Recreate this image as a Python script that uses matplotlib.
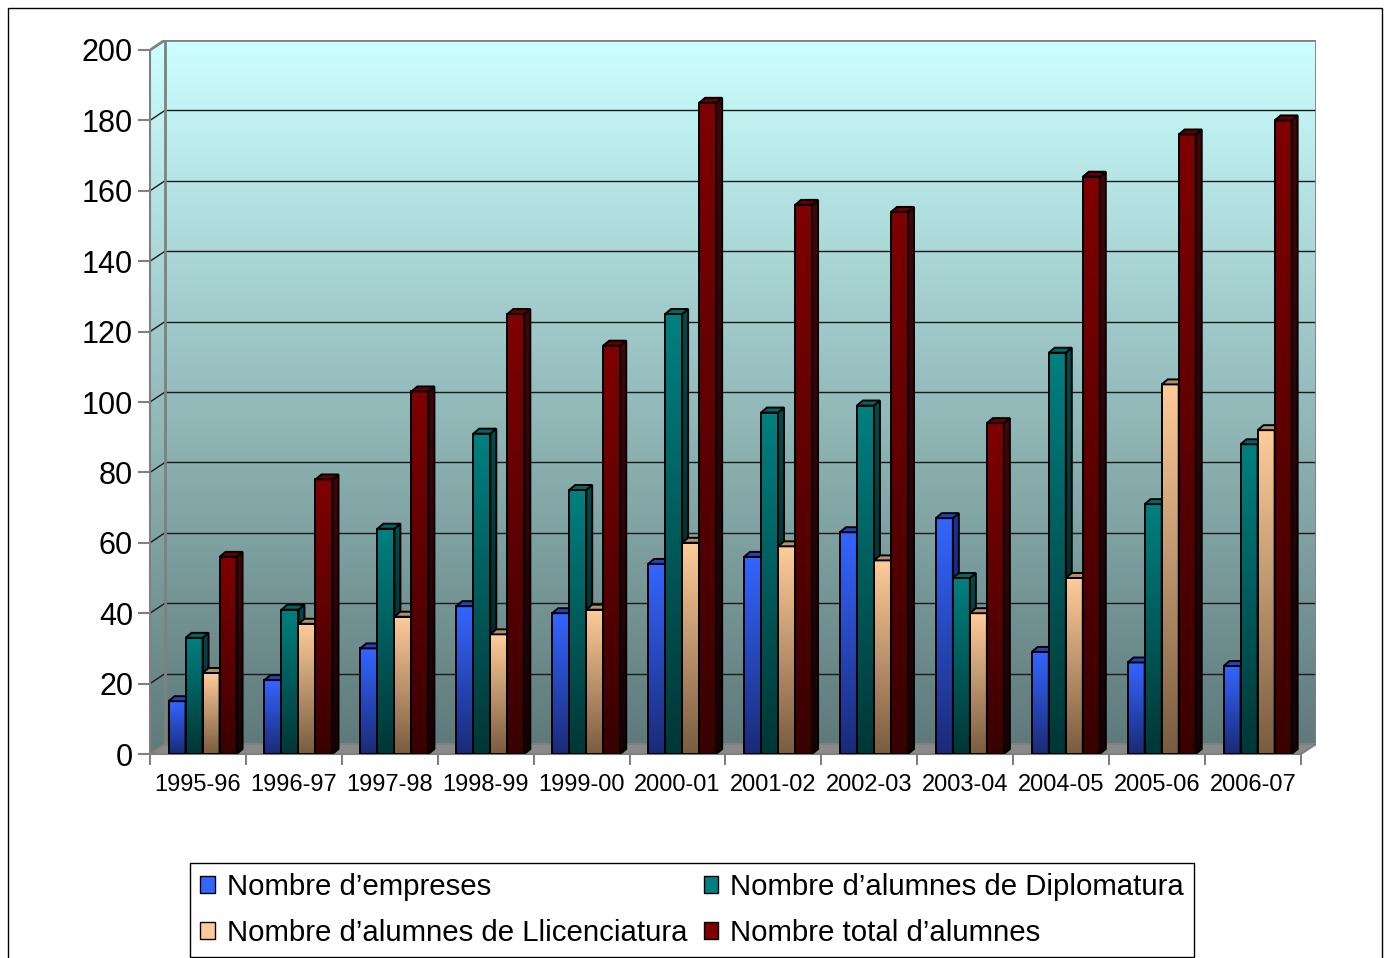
import numpy as np
import matplotlib.pyplot as plt
from matplotlib.patches import Polygon, Patch, Rectangle
from matplotlib.colors import to_rgb

plt.rcParams['font.family'] = ['Liberation Sans', 'DejaVu Sans']

cursos = ['1995-96', '1996-97', '1997-98', '1998-99', '1999-00', '2000-01',
          '2001-02', '2002-03', '2003-04', '2004-05', '2005-06', '2006-07']
empreses = [15, 21, 30, 42, 40, 54, 56, 63, 67, 29, 26, 25]
diplomatura = [33, 41, 64, 91, 75, 125, 97, 99, 50, 114, 71, 88]
llicenciatura = [23, 37, 39, 34, 41, 60, 59, 55, 40, 50, 105, 92]
total = [56, 78, 103, 125, 116, 185, 156, 154, 94, 164, 176, 180]

noms = ['Nombre d\u2019empreses', 'Nombre d\u2019alumnes de Diplomatura',
        'Nombre d\u2019alumnes de Llicenciatura', 'Nombre total d\u2019alumnes']

# front top, front bottom, side top, side bottom, top face
colors = [
    ('#3366FF', '#1A2A78', '#1A3399', '#0A1540', '#2244BB'),
    ('#008080', '#003636', '#004C4C', '#001A1A', '#006666'),
    ('#FFCC99', '#7A5C40', '#997A5C', '#40301F', '#B38F6B'),
    ('#800000', '#3A0000', '#4D0000', '#1A0000', '#660000'),
]

W, H = 1388, 958
fig = plt.figure(figsize=(W / 100, H / 100), dpi=100)

ngroups = len(cursos)
px_x = 1150 / ngroups
px_y = 704 / 200
bx, by = 15 / px_x, 10 / px_y   # back wall offset
dx, dy = 6 / px_x, 5 / px_y     # bar depth
bw = 17 / px_x
off = 18.5 / px_x

ax = fig.add_axes([150 / W, 1 - 754 / H, 1166 / W, 714 / H])


def grad_poly(pts, top, bottom, z, edge=True):
    pts = np.array(pts)
    poly = Polygon(pts, closed=True, facecolor='none', edgecolor='black' if edge else 'none',
                   lw=1.4, zorder=z + 0.1)
    ax.add_patch(poly)
    n = 128
    t = np.linspace(0, 1, n)[:, None]
    img = (np.array(to_rgb(top)) * (1 - t) + np.array(to_rgb(bottom)) * t)[:, None, :]
    x0, x1 = pts[:, 0].min(), pts[:, 0].max()
    y0, y1 = pts[:, 1].min(), pts[:, 1].max()
    im = ax.imshow(img, extent=(x0, x1, y0, y1), origin='upper', aspect='auto',
                   interpolation='bilinear', zorder=z)
    im.set_clip_path(poly)
    return poly


# walls
wall_top, wall_bot = '#CCFFFF', '#5F7A7A'
grad_poly([(bx, by), (ngroups + bx, by), (ngroups + bx, 200 + by), (bx, 200 + by)],
          wall_top, wall_bot, 1, edge=False)
grad_poly([(0, 0), (bx, by), (bx, 200 + by), (0, 200)], wall_top, wall_bot, 1, edge=False)
ax.add_patch(Polygon([(0, 0), (ngroups, 0), (ngroups + bx, by), (bx, by)],
                     closed=True, facecolor='#8A8A8A', edgecolor='#808080', lw=1.5, zorder=1.5))

for v in range(20, 200, 20):
    ax.plot([bx, ngroups + bx], [v + by, v + by], color='#1A1A1A', lw=1, zorder=2)
    ax.plot([0, bx], [v, v + by], color='#1A1A1A', lw=1, zorder=2)
ax.plot([bx, bx, ngroups + bx, ngroups + bx], [by, 200 + by, 200 + by, by],
        color='#808080', lw=2, zorder=2.5)
ax.plot([0, bx], [200, 200 + by], color='#808080', lw=2, zorder=2.5)

# bars
series = [empreses, diplomatura, llicenciatura, total]
x = np.arange(ngroups)
for i, vals in enumerate(series):
    ft, fb, st, sb, tc = colors[i]
    z = 5 + i * 2
    for g in range(ngroups):
        v = vals[g]
        x0 = x[g] + off + i * bw
        x1 = x0 + bw
        grad_poly([(x0, 0), (x1, 0), (x1, v), (x0, v)], ft, fb, z)
        grad_poly([(x1, 0), (x1 + dx, dy), (x1 + dx, v + dy), (x1, v)], st, sb, z)
        ax.add_patch(Polygon([(x0, v), (x0 + dx, v + dy), (x1 + dx, v + dy), (x1, v)],
                             closed=True, facecolor=tc, edgecolor='black', lw=1.4, zorder=z + 0.1))

ax.set_xlim(0, ngroups + bx)
ax.set_ylim(0, 200 + by)

for s in ['top', 'right']:
    ax.spines[s].set_visible(False)
ax.spines['left'].set_bounds(0, 200)
ax.spines['bottom'].set_bounds(0, ngroups)
for s in ['left', 'bottom']:
    ax.spines[s].set_color('#808080')
    ax.spines[s].set_linewidth(1.5)
    ax.spines[s].set_zorder(3)

ax.set_yticks(range(0, 201, 20))
ax.tick_params(axis='y', direction='out', length=8.6, width=1.5, color='#808080',
               labelsize=22, pad=3.6)
ax.set_xticks(range(0, ngroups + 1))
ax.set_xticklabels([])
ax.set_xticks(x + 0.5, minor=True)
ax.set_xticklabels(cursos, minor=True, fontsize=17)
ax.tick_params(axis='x', which='major', direction='out', length=8, width=1.5, color='#808080')
ax.tick_params(axis='x', which='minor', length=0, pad=14.5)

handles = [Patch(facecolor=colors[k][0], edgecolor='black', lw=1) for k in (0, 2, 1, 3)]
labels = [noms[k] for k in (0, 2, 1, 3)]
leg = fig.legend(handles, labels, ncol=2, loc='upper left',
                 bbox_to_anchor=(190 / W, 1 - 863 / H), fontsize=21.2, frameon=True,
                 fancybox=False, edgecolor='black', framealpha=1, borderpad=0.35,
                 handlelength=0.5, handleheight=0.5, handletextpad=0.4,
                 columnspacing=0.55, labelspacing=0.6, borderaxespad=0)
leg.get_frame().set_linewidth(1)

fig.add_artist(Rectangle((8 / W, -0.02), 1374 / W, 1 - 8 / H + 0.02, transform=fig.transFigure,
                         fill=False, edgecolor='black', lw=1))

fig.savefig('out.png', dpi=100)
